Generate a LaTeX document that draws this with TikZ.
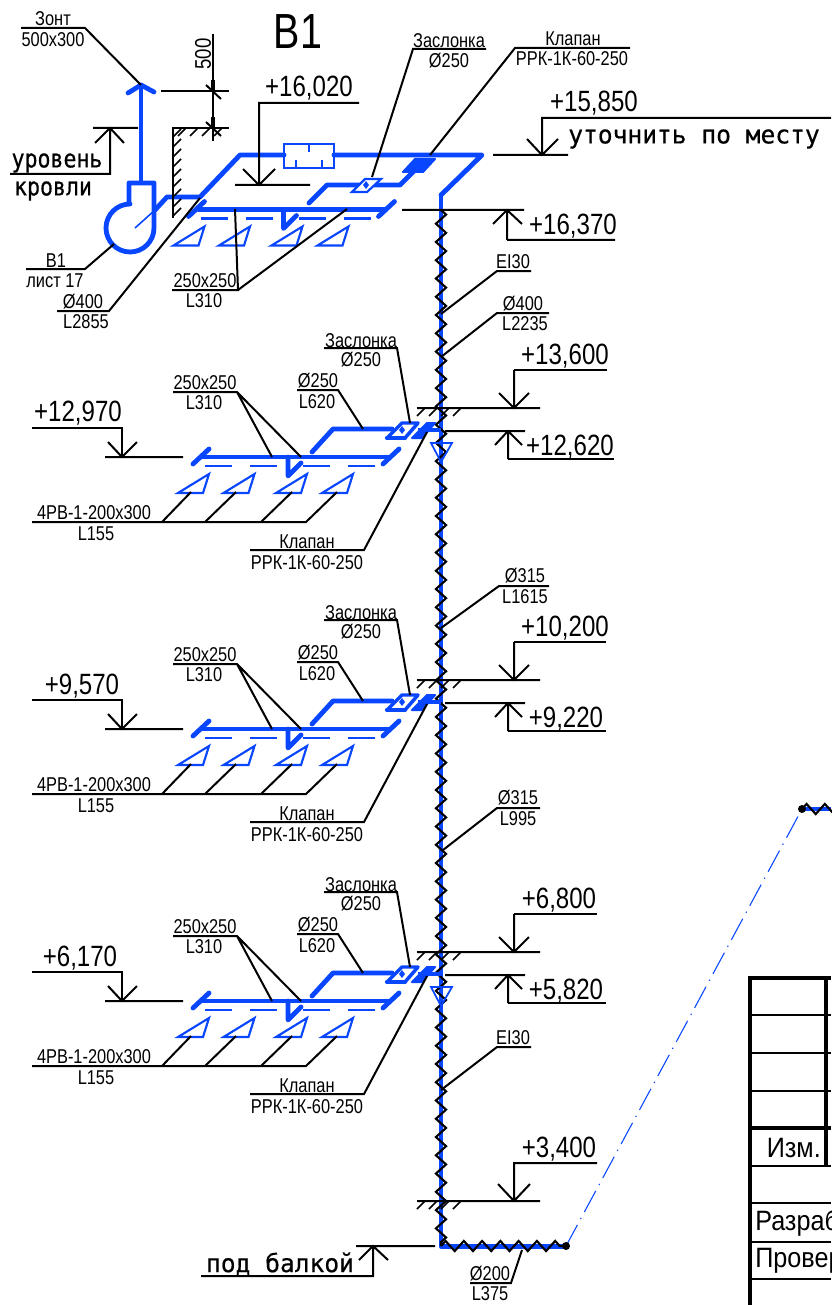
\documentclass[tikz,border=0pt]{standalone}
\usepackage{fontspec}
\usetikzlibrary{decorations.pathmorphing}
\newfontfamily\nf[FakeStretch=0.82]{Liberation Sans}
\newfontfamily\nfB[FakeStretch=0.8]{Liberation Sans}
\newfontfamily\nfT[FakeStretch=0.9]{Liberation Sans}
\newfontfamily\cadA[FakeStretch=0.98,FakeBold=0.5]{DejaVu Sans Mono}
\newfontfamily\cadB[FakeStretch=0.86,FakeBold=0.5]{DejaVu Sans Mono}
\definecolor{ductblue}{RGB}{8,70,255}
\tikzset{
  ln/.style={draw=black,line width=1.5pt},
  duct/.style={draw=ductblue,line width=3.6pt,line cap=round,line join=round},
  ductmid/.style={draw=ductblue,line width=1.6pt,line join=miter},
  ductthin/.style={draw=ductblue,line width=0.8pt},
  zz/.style={draw=black,line width=1.6pt,decorate,decoration={zigzag,segment length=13.7pt,amplitude=3.8pt}},
  sm/.style={inner sep=0pt,yshift=-0.7pt,font=\nf\fontsize{15}{17}\selectfont},
  big/.style={inner sep=0pt,yshift=-1.5pt,font=\nf\fontsize{22}{24}\selectfont},
  tb/.style={inner sep=0pt,font=\nfT\fontsize{21}{24}\selectfont},
  cada/.style={inner sep=0pt,font=\cadA\fontsize{18.8}{22}\selectfont},
  cadb/.style={inner sep=0pt,font=\cadB\fontsize{18.8}{22}\selectfont},
}
% duct block: main run, drop, dashed line and four grilles, relative to the first floor
\newcommand\ductrun{%
  \draw[duct] (193,464)--(209,449);
  \draw[duct] (203,457)--(390,457);
  \draw[duct] (383,464)--(399,449);
  \draw[duct] (288,457)--(288,476)--(301,463);
  \foreach \a in {205,250,303,348}{\draw[draw=ductblue,line width=1.6pt] (\a,466)--(\a+27,466);}
  \foreach \a in {178,223.5,276,322}{\draw[ductmid] (\a,493)--(\a+31,474)--(\a+25,493)--cycle;}
}
\newcommand\hatchh{\foreach \a in {417,429,441,453}{\draw[draw=black,line width=1.3pt] (\a,416)--(\a+8,408);}}
\begin{document}
\begin{tikzpicture}[x=0.75pt,y=-0.75pt]
\useasboundingbox (0,0) rectangle (831,1305);
\fill[white] (0,0) rectangle (831,1305);

% --- riser and outlet ---
\draw[duct,line cap=butt] (441,195)--(441,1246.5)--(566,1246.5);
\draw[duct,line cap=butt] (802,809)--(831,809);
\draw[draw=ductblue,line width=0.8pt,dash pattern=on 18pt off 5pt on 1pt off 5pt] (566,1246)--(802,809);
\draw[zz] (441,210)--(441,1246);
\draw[zz] (441,1246)--(566,1246);
\draw[zz] (802,809)--(840,809);
\fill[black] (566,1246) circle (3pt);
\fill[black] (802,809) circle (3pt);

% --- top level ducts ---
\draw[duct] (141,182)--(141,85);
\draw[duct] (128,93)--(141,85)--(154,92);
\draw[duct] (129,204)--(129,183)--(154,183)--(154,228) arc[start angle=0,end angle=270,radius=24] ;
\draw[ductthin,line width=1.2pt] (135,228)--(155,210);
\draw[duct] (155,210)--(167,197)--(200,197)--(240,155)--(284,155);
\draw[ductmid] (284,144) rectangle (334,168);
\draw[ductmid] (309,144)--(309,152) (296,168)--(296,160) (322,168)--(322,160);
\draw[duct] (334,155)--(482,155)--(441,195);
\draw[duct] (309,203)--(327,185)--(400,185)--(415,170);
\draw[ductmid,fill=white] (352,192)--(365,179)--(381,179)--(367,192)--cycle;
\fill[ductblue] (366,181)--(369,185)--(366,189)--(363,185)--cycle;
\fill[ductblue,draw=ductblue,line width=1.5pt,line join=round] (403,172)--(415,159)--(435,159)--(423,172)--cycle;
\begin{scope}[shift={(-4.5,-247.5)}]\ductrun\end{scope}

% --- floors ---
\foreach \dy/\hasv in {0/1,272/0,544/1}{
 \begin{scope}[shift={(0,\dy)}]
  \ductrun
  \draw[duct] (312,452)--(333,429)--(392,429);
  \draw[duct,line width=2.6pt,fill=white] (387,438)--(402,423)--(418,423)--(405,438)--cycle;
  \draw[duct,line width=3.2pt] (387,438)--(405,438);
  \fill[ductblue] (402,426)--(405,430)--(402,434)--(399,430)--cycle;
  \fill[ductblue,draw=ductblue,line width=1.5pt,line join=round] (412,438)--(427,423)--(435,423)--(422,438)--cycle;
  \draw[duct,line cap=butt] (418,430)--(441,430);
  \ifnum\hasv=1 \draw[ductmid,line width=1.3pt] (431,443)--(452,443)--(441,462)--cycle; \fi
  % leaders
  \draw[ln] (32,522)--(306,522)--(337,492);
  \draw[ln] (162,522)--(191,492) (205,522)--(236,492) (261,522)--(292,492);
  \draw[ln] (173,392)--(237,392)--(272,457) (237,392)--(301,457);
  \draw[ln] (297,390)--(338,390)--(363,429);
  \draw[ln] (324,348)--(397,348)--(410,423);
  \draw[ln] (250,550)--(364,550)--(427,432);
  % levels
  \draw[ln] (32,428)--(122,428)--(122,457);
  \draw[ln] (105,457)--(183,457) (108,442)--(122,457)--(137,442);
  \draw[ln] (417,408)--(540,408) (514,370)--(514,408) (499,393)--(514,408)--(529,393);
  \hatchh
  \draw[ln] (445,431)--(525,431) (495,445)--(508,431)--(522,445) (508,431)--(508,459);
  % labels
  \node[sm] (a\dy) at (94,512) {4РВ-1-200x300};
  \node[sm] (b\dy) at (96,533) {L155};
  \node[sm] (c\dy) at (205,382) {250x250};
  \node[sm] (d\dy) at (204,402) {L310};
  \node[sm] (e\dy) at (318,380) {Ø250};
  \node[sm] (f\dy) at (317,401) {L620};
  \node[sm] (g\dy) at (361,340) {Заслонка};
  \node[sm] (h\dy) at (361,359) {Ø250};
  \node[sm] (i\dy) at (307,541) {Клапан};
  \node[sm] (j\dy) at (307,562) {РРК-1К-60-250};
 \end{scope}
}
% per floor level marks
\node[big] (l1) at (78,411) {+12,970};
\node[big] (l2) at (565,354) {+13,600};
\node[big] (l3) at (570,445) {+12,620};
\draw[ln] (514,370)--(607,370) (508,459)--(614,459);
\node[big] (l4) at (82,684) {+9,570};
\node[big] (l5) at (565,626) {+10,200};
\node[big] (l6) at (566,717) {+9,220};
\draw[ln] (514,642)--(606,642) (508,731)--(606,731);
\node[big] (l7) at (80,956) {+6,170};
\node[big] (l8) at (559,898) {+6,800};
\node[big] (l9) at (566,989) {+5,820};
\draw[ln] (514,914)--(597,914) (508,1003)--(606,1003);

% --- roof ---
\draw[ln] (173,218)--(173,128)--(229,128);
\foreach \a in {178,190,202,214}{\draw[draw=black,line width=1.3pt] (\a,136)--(\a+8,128);}
\foreach \a in {137,147,157,167,177,187,197,207,216}{\draw[draw=black,line width=1.3pt] (173,\a)--(181,\a-8);}
\draw[ln] (213,34)--(213,141) (161,91)--(229,91);
\draw[ln] (206,85)--(221,99) (206,122)--(221,136);
\draw[draw=black,line width=2.4pt] (213,80)--(213,91) (213,128)--(213,117);
\node[inner sep=0pt,font=\nf\fontsize{17}{18}\selectfont,rotate=90] (n500) at (203,54) {500};
\node[inner sep=0pt,font=\nfB\fontsize{37}{40}\selectfont] (title) at (298,32) {В1};

% --- top level labels and leaders ---
\draw[ln] (21,28)--(85,28)--(141,85);
\node[sm] (t1) at (53,18) {Зонт};
\node[sm] (t2) at (53,39) {500x300};
\draw[ln] (10,174)--(110,174)--(110,128) (93,128)--(138,128) (95,143)--(110,128)--(124,143);
\node[cadb] (t3) at (57,163) {уровень};
\node[cadb] (t4) at (53,191) {кровли};
\draw[ln] (26,269)--(85,269)--(114,244);
\node[sm] (t5) at (56,260) {В1};
\node[sm] (t6) at (55,280) {лист 17};
\draw[ln] (57,311)--(109,311)--(200,198);
\node[sm] (t7) at (83,301) {Ø400};
\node[sm] (t8) at (86,321) {L2855};
\draw[ln] (172,290)--(238,290)--(235,209) (238,290)--(347,209);
\node[sm] (t9) at (205,280) {250x250};
\node[sm] (t10) at (204,300) {L310};
\node[big] (t11) at (309,86) {+16,020};
\draw[ln] (359,103)--(259,103)--(259,185) (235,185)--(310,185) (243,169)--(259,185)--(275,169);
\draw[ln] (486,49)--(413,49)--(372,177);
\node[sm] (t12) at (449,40) {Заслонка};
\node[sm] (t13) at (449,60) {Ø250};
\draw[ln] (630,48)--(515,48)--(430,155);
\node[sm] (t14) at (573,38) {Клапан};
\node[sm] (t15) at (572,58) {РРК-1К-60-250};
\node[big] (t16) at (594,101) {+15,850};
\draw[ln] (831,118)--(542,118)--(542,155) (493,155)--(568,155) (527,139)--(542,155)--(558,139);
\node[cada] (t17) at (694,139) {уточнить по месту};
\draw[ln] (402,210)--(524,210) (507,240)--(507,210) (493,224)--(507,210)--(522,224) (507,240)--(615,240);
\node[big] (t18) at (573,224) {+16,370};
\draw[ln] (531,271)--(497,271)--(441,314);
\node[sm] (t19) at (513,261) {EI30};
\draw[ln] (549,313)--(497,313)--(441,357);
\node[sm] (t20) at (523,303) {Ø400};
\node[sm] (t21) at (525,323) {L2235};
\draw[ln] (549,586)--(499,586)--(441,628);
\node[sm] (t22) at (525,575) {Ø315};
\node[sm] (t23) at (525,596) {L1615};
\draw[ln] (540,808)--(497,808)--(443,850);
\node[sm] (t24) at (518,797) {Ø315};
\node[sm] (t25) at (518,818) {L995};
\draw[ln] (531,1047)--(497,1047)--(441,1090);
\node[sm] (t26) at (513,1037) {EI30};
% bottom
\draw[ln] (417,1201)--(540,1201) (597,1163)--(514,1163)--(514,1201) (498,1184)--(514,1201)--(530,1184);
\foreach \a in {417,429,441,453}{\draw[draw=black,line width=1.3pt] (\a,1209)--(\a+8,1201);}
\node[big] (t27) at (559,1147) {+3,400};
\draw[ln] (201,1276)--(373,1276)--(373,1246) (356,1246)--(435,1246) (359,1260)--(373,1246)--(388,1260);
\node[cada] (t28) at (280,1264) {под балкой};
\draw[ln] (470,1283)--(511,1283)--(522,1250);
\node[sm] (t29) at (490,1273) {Ø200};
\node[sm] (t30) at (490,1293) {L375};

% --- title block ---
\begin{scope}
\clip (0,0) rectangle (831,1305);
\draw[draw=black,line width=3pt] (831,978)--(750,978)--(750,1305);
\draw[draw=black,line width=3pt] (826,978)--(826,1167);
\draw[draw=black,line width=1.1pt] (750,1015)--(831,1015) (750,1053)--(831,1053) (750,1091)--(831,1091);
\draw[draw=black,line width=3pt] (750,1128)--(831,1128);
\draw[draw=black,line width=2pt] (750,1166)--(831,1166);
\draw[draw=black,line width=1.1pt] (750,1203)--(831,1203) (750,1242)--(831,1242) (750,1279)--(831,1279);
\node[tb,anchor=east] (b1) at (821,1148) {Изм.};
\node[tb,anchor=west] (b2) at (755,1223) {Разраб};
\node[tb,anchor=west] (b3) at (755,1261) {Провер};
\end{scope}
\end{tikzpicture}
\end{document}
